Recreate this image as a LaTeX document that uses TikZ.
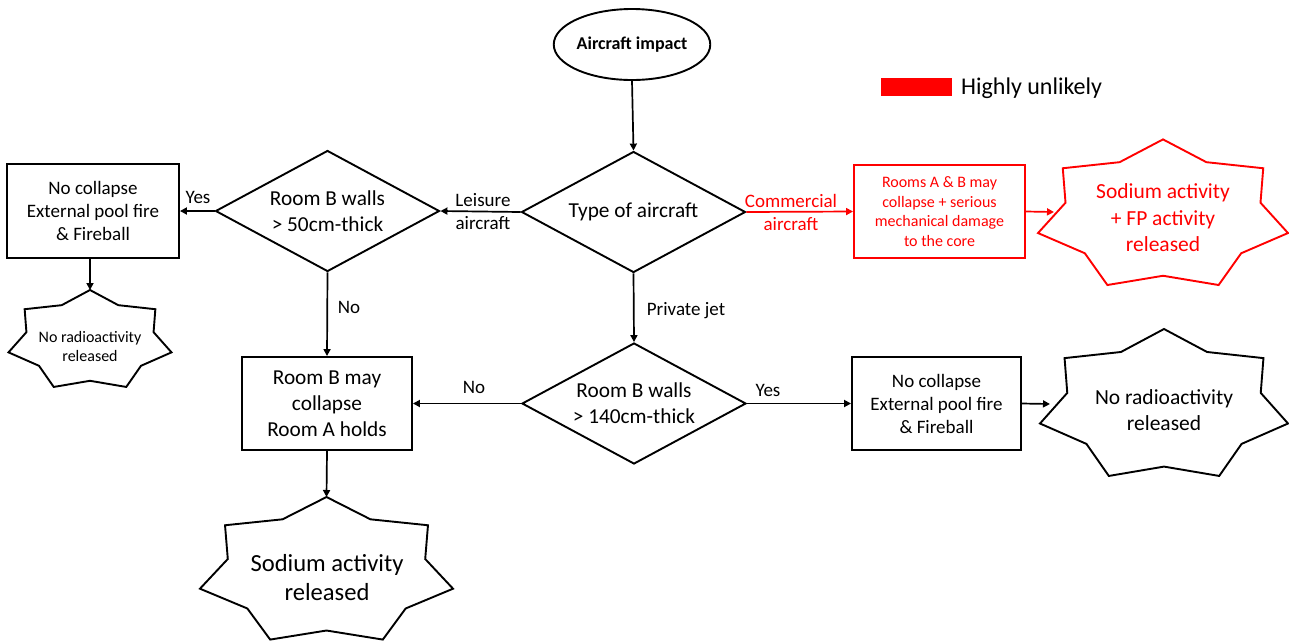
\documentclass[tikz,border=0pt]{standalone}
\usepackage{fontspec}
\setmainfont{Carlito}
\usetikzlibrary{calc,shapes.geometric,arrows.meta}
\newcommand\setfs[2]{\fontsize{#1}{#2}\selectfont}
% seven-pointed star around a centre: #1 centre, #2 x radius, #3 y radius, #4 colour
\newcommand\sevenstar[4]{%
  \draw[starline,draw=#4] ($#1+(0,{-#3})$)
    \foreach \k in {1,...,13}{
      -- ($#1+({#2*(0.89+0.11*cos(180*\k))*cos(90-\k*360/14)},{-#3*(0.89+0.11*cos(180*\k))*sin(90-\k*360/14)})$)
    } -- cycle;}
\tikzset{
  box/.style={draw, rectangle, line width=1.9pt, align=center, inner sep=0pt},
  decision/.style={draw, diamond, aspect=1.86, line width=1.9pt, align=center,
    inner sep=0pt, minimum width=224, minimum height=121, font=\setfs{21.3}{26}},
  arr/.style={line width=1.7pt, -{Triangle[length=7pt,width=7pt]}},
  starline/.style={line width=1.9pt, line join=miter},
  lbl/.style={align=center, inner sep=0pt, font=\setfs{19}{23}},
  startext/.style={align=center, inner sep=0pt},
}
\begin{document}
\begin{tikzpicture}[x=1pt,y=-1pt]
\useasboundingbox (0,0) rectangle (1289,641);

% legend
\node[fill=red, minimum width=71, minimum height=18, inner sep=0pt] (legbox) at (916.5,87) {};
\node[anchor=west, inner sep=0pt, font=\setfs{24}{28}] (legtxt) at (961,88) {Highly unlikely};

% start
\node[draw, ellipse, line width=1.9pt, minimum width=150, minimum height=71, inner sep=0pt,
  font=\bfseries\setfs{18}{22}] (imp) at (632,44.5) {Aircraft impact};

% decisions
\node[decision] (TD) at (633.5,212) {Type of aircraft};
\node[decision] (LD) at (327.5,211) {Room B walls\\> 50cm-thick};
\node[decision] (BD) at (634,403.5) {Room B walls\\> 140cm-thick};

% outcome boxes
\node[box, minimum width=172, minimum height=94, font=\setfs{19}{23}] (LB) at (93,211)
  {No collapse\\External pool fire\\\& Fireball};
\node[box, minimum width=170, minimum height=93, font=\setfs{21.3}{26}] (RB) at (327,403.5)
  {Room B may\\collapse\\Room A holds};
\node[box, minimum width=169, minimum height=93, font=\setfs{19}{23}] (RB2) at (936.5,403.5)
  {No collapse\\External pool fire\\\& Fireball};
\node[box, draw=red, text=red, minimum width=171, minimum height=93, font=\setfs{16}{19.5}] (RedB) at (939.5,211.5)
  {Rooms A \& B may\\collapse + serious\\mechanical damage\\to the core};

% release stars
\sevenstar{(90,341)}{83.6}{51}{black}
\node[startext, font=\setfs{16}{19}] (S1) at (90,346) {No radioactivity\\released};
\coordinate (S1t) at (90,290);

\sevenstar{(1163,216)}{128.2}{76.6}{red}
\node[startext, text=red, font=\setfs{21.5}{26.5}] (S2) at (1163,218) {Sodium activity\\+ FP activity\\released};
\coordinate (S2in) at (1054,212);

\sevenstar{(1164,406.3)}{127.2}{77.3}{black}
\node[startext, font=\setfs{21.5}{26}] (S3) at (1164,410) {No radioactivity\\released};
\coordinate (S3in) at (1050,404);

\sevenstar{(326.5,572)}{129.8}{75}{black}
\node[startext, font=\setfs{24.6}{29}] (S4) at (327,578) {Sodium activity\\released};
\coordinate (S4t) at (326.5,497);

% connector labels
\node[lbl] (yes1) at (198,197) {Yes};
\node[lbl] (leis) at (483,212) {Leisure\\aircraft};
\node[lbl, text=red] (comm) at (791,212) {Commercial\\aircraft};
\node[lbl] (no1) at (349,307) {No};
\node[lbl] (pj) at (686,311) {Private jet};
\node[lbl] (no2) at (474,387) {No};
\node[lbl] (yes2) at (768,390) {Yes};

% connectors
\draw[arr] (imp.south) -- (TD.north);
\draw[arr] (TD.west) -- (LD.east);
\draw[arr] (LD.west) -- (LB.east);
\draw[arr] (LB.south -| S1t) -- (S1t);
\draw[arr] (LD.south) -- (RB.north);
\draw[arr, red] (TD.east) -- (RedB.west);
\draw[arr, red] (RedB.east) -- (S2in);
\draw[arr] (TD.south) -- (BD.north);
\draw[arr] (BD.west) -- (RB.east);
\draw[arr] (BD.east) -- (RB2.west);
\draw[arr] (RB2.east) -- (S3in);
\draw[arr] (RB.south) -- (S4t);
\end{tikzpicture}
\end{document}
